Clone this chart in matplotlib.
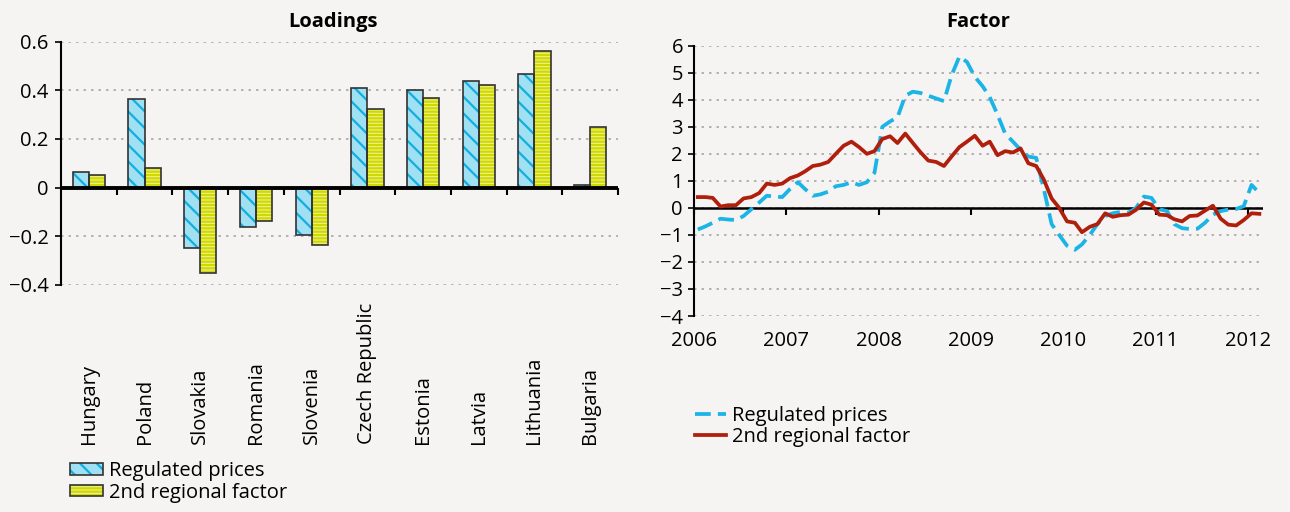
import numpy as np
import pandas as pd
import matplotlib
matplotlib.use("Agg")
import matplotlib.pyplot as plt
import matplotlib.dates as mdates
import matplotlib.transforms as mtrans
from matplotlib.patches import Patch
from matplotlib.lines import Line2D

plt.rcParams['font.family'] = ['Open Sans', 'DejaVu Sans']
plt.rcParams['hatch.linewidth'] = 1.6

# Loadings (left panel)
countries = ["Hungary", "Poland", "Slovakia", "Romania", "Slovenia",
             "Czech Republic", "Estonia", "Latvia", "Lithuania", "Bulgaria"]
load_regulated = [0.063, 0.365, -0.248, -0.163, -0.196, 0.41, 0.403, 0.437, 0.468, 0.01]
load_second = [0.054, 0.08, -0.352, -0.135, -0.234, 0.324, 0.368, 0.423, 0.561, 0.248]

# Factors (right panel), monthly from Jan 2006
factor_start = "2006-01-01"
factor_regulated = [
    -0.8, -0.68, -0.55, -0.4, -0.43, -0.45, -0.3, -0.05, 0.2, 0.45, 0.42, 0.4,
    0.7, 0.95, 0.7, 0.45, 0.5, 0.6, 0.8, 0.85, 0.95, 0.85, 0.95, 1.3,
    3.0, 3.2, 3.35, 4.15, 4.3, 4.25, 4.15, 4.05, 3.95, 4.9, 5.6, 5.4,
    4.85, 4.5, 4.1, 3.45, 2.75, 2.45, 2.15, 1.9, 1.85, 0.7, -0.6, -1.0,
    -1.4, -1.55, -1.35, -1.0, -0.6, -0.3, -0.2, -0.15, -0.18, 0.0, 0.42, 0.37,
    -0.05, -0.12, -0.6, -0.75, -0.78, -0.77, -0.55, -0.25, -0.12, -0.06, -0.04, 0.06,
    0.85, 0.55]
factor_second = [
    0.4, 0.4, 0.37, 0.05, 0.1, 0.1, 0.35, 0.4, 0.55, 0.9, 0.85, 0.9,
    1.1, 1.2, 1.35, 1.55, 1.6, 1.7, 2.0, 2.3, 2.45, 2.25, 2.0, 2.1,
    2.55, 2.65, 2.4, 2.75, 2.4, 2.05, 1.75, 1.7, 1.55, 1.9, 2.25, 2.45,
    2.67, 2.3, 2.45, 1.95, 2.1, 2.05, 2.2, 1.65, 1.55, 1.05, 0.35, 0.0,
    -0.5, -0.55, -0.9, -0.7, -0.6, -0.2, -0.33, -0.27, -0.25, -0.07, 0.2, 0.12,
    -0.25, -0.27, -0.42, -0.5, -0.3, -0.28, -0.1, 0.08, -0.4, -0.62, -0.65, -0.45,
    -0.2, -0.22]

bg = '#f5f4f2'
blue_fill, blue_hatch = '#9fe0f3', '#12aee0'
yel_fill, yel_hatch = '#eef28a', '#cfd800'
blue_line, red_line = '#1ab4e6', '#b01e0c'
edge = '#333333'
grid_kw = dict(color='#a8a8a8', linestyle=(0, (1.5, 3)), linewidth=1.2)
fs = 14.5

fig = plt.figure(figsize=(12.9, 5.12), dpi=100, facecolor=bg)
ax1 = fig.add_axes([0.0473, 0.4434, 0.4318, 0.4752], facecolor=bg)
ax2 = fig.add_axes([0.538, 0.3828, 0.441, 0.5279], facecolor=bg)

# --- Loadings ---
x = np.arange(len(countries))
w = 0.29
ax1.bar(x - w / 2, load_regulated, w, color=blue_fill, hatch='\\\\', edgecolor=blue_hatch, lw=0, zorder=2)
ax1.bar(x - w / 2, load_regulated, w, fill=False, edgecolor=edge, lw=1.2, zorder=3)
ax1.bar(x + w / 2, load_second, w, color=yel_fill, hatch='-----', edgecolor=yel_hatch, lw=0, zorder=2)
ax1.bar(x + w / 2, load_second, w, fill=False, edgecolor=edge, lw=1.2, zorder=3)
ax1.axhline(0, color='black', lw=2.8, zorder=4)

ax1.set_xlim(-0.5, len(countries) - 0.5)
ax1.set_ylim(-0.4, 0.6)
ax1.set_yticks(np.arange(-0.4, 0.61, 0.2))
ax1.yaxis.set_major_formatter(lambda v, p: '0' if abs(v) < 1e-9 else f'{v:.1f}'.replace('-', '\u2212'))
ax1.set_xticks([])
ax1.yaxis.grid(True, **grid_kw)
ax1.set_axisbelow(True)
for s in ['top', 'right', 'bottom']:
    ax1.spines[s].set_visible(False)
ax1.spines['left'].set_linewidth(1.5)
ax1.tick_params(axis='y', direction='out', length=4, width=1.2, pad=5, labelsize=fs)

sec1 = ax1.secondary_xaxis(0.4)
sec1.set_xticks(x + 0.5)
sec1.tick_params(direction='out', length=5, width=1.5, labelbottom=False)
sec1.spines['bottom'].set_visible(False)

lab_tr = mtrans.blended_transform_factory(ax1.transData, ax1.transAxes)
for i, c in enumerate(countries):
    ax1.text(i, -0.655, c, transform=lab_tr, rotation=90, ha='center', va='bottom', fontsize=fs)

# --- Factor ---
dates = pd.date_range(factor_start, periods=len(factor_regulated), freq='MS') + pd.Timedelta(days=15)
ax2.plot(dates, factor_regulated, color=blue_line, lw=2.7, dashes=(4.2, 1.9), zorder=3)
ax2.plot(dates, factor_second, color=red_line, lw=2.7, zorder=4)
ax2.axhline(0, color='black', lw=1.8, zorder=2)
ax2.set_ylim(-4, 6)
ax2.set_yticks(range(-4, 7))
ax2.set_xlim(pd.Timestamp('2006-01-01'), pd.Timestamp('2012-03-01'))
ax2.xaxis.set_major_locator(mdates.YearLocator())
ax2.xaxis.set_major_formatter(mdates.DateFormatter('%Y'))
ax2.tick_params(axis='x', length=0, pad=11, labelsize=fs)
ax2.tick_params(axis='y', direction='out', length=4, width=1.2, pad=4, labelsize=fs)
ax2.yaxis.grid(True, **grid_kw)
ax2.set_axisbelow(True)
for s in ['top', 'right', 'bottom']:
    ax2.spines[s].set_visible(False)
ax2.spines['left'].set_linewidth(1.5)

sec2 = ax2.secondary_xaxis(0.4)
sec2.xaxis.set_major_locator(mdates.YearLocator())
sec2.tick_params(direction='out', length=5, width=1.5, labelbottom=False)
sec2.spines['bottom'].set_visible(False)

# titles
fig.text(333 / 1290, 1 - 22 / 512, 'Loadings', ha='center', va='center', weight='bold', fontsize=fs)
fig.text(978 / 1290, 1 - 22 / 512, 'Factor', ha='center', va='center', weight='bold', fontsize=fs)

# legends
bar_handles = [
    (Patch(facecolor=blue_fill, hatch='\\\\', edgecolor=blue_hatch, lw=0), Patch(fill=False, edgecolor=edge, lw=1.2)),
    (Patch(facecolor=yel_fill, hatch='-----', edgecolor=yel_hatch, lw=0), Patch(fill=False, edgecolor=edge, lw=1.2)),
]
fig.legend(bar_handles, ['Regulated prices', '2nd regional factor'], loc='upper left',
           bbox_to_anchor=(70 / 1290, 1 - 461 / 512), frameon=False, fontsize=fs,
           handlelength=1.65, handleheight=0.5, handletextpad=0.3, labelspacing=0.08,
           borderpad=0, borderaxespad=0)
line_handles = [Line2D([], [], color=blue_line, lw=2.7, dashes=(4.2, 1.9)),
                Line2D([], [], color=red_line, lw=2.7)]
fig.legend(line_handles, ['Regulated prices', '2nd regional factor'], loc='upper left',
           bbox_to_anchor=(695 / 1290, 1 - 406 / 512), frameon=False, fontsize=fs,
           handlelength=1.55, handletextpad=0.3, labelspacing=0.05,
           borderpad=0, borderaxespad=0)

fig.savefig('out.png', dpi=100, facecolor=bg)
